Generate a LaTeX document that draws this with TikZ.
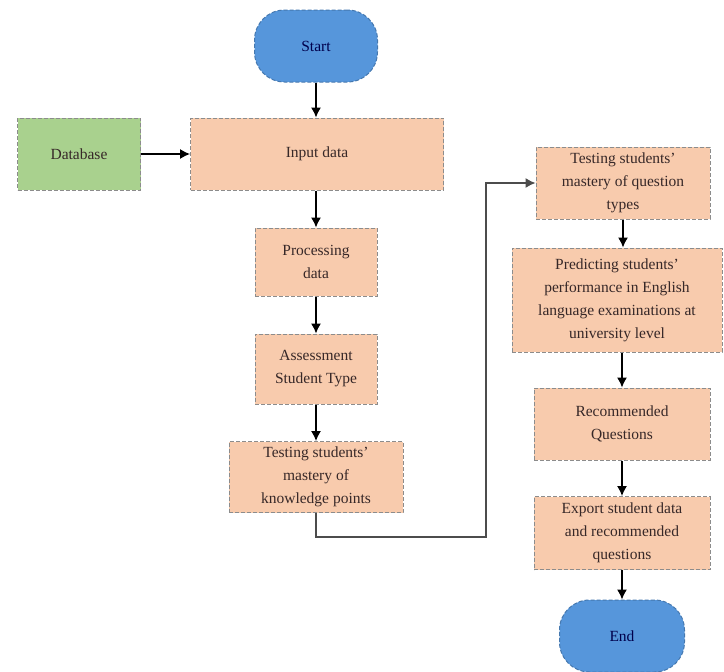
\documentclass[tikz,border=0pt]{standalone}
\usepackage{fontspec}
\setmainfont{Liberation Serif}
\usetikzlibrary{arrows.meta}
\definecolor{peach}{RGB}{248,203,173}
\definecolor{leaf}{RGB}{169,209,142}
\definecolor{sky}{RGB}{86,150,219}
\definecolor{rim}{RGB}{140,140,140}
\definecolor{ink}{RGB}{55,40,40}
\begin{document}
\begin{tikzpicture}[x=1pt,y=-1pt,
  every node/.style={font=\fontsize{15.5}{23}\selectfont, text=ink, align=center, inner sep=2pt},
  stepbox/.style={draw=rim, fill=peach, line width=1pt, dash pattern=on 4pt off 2pt},
  sourcebox/.style={draw=rim, fill=leaf, line width=1pt, dash pattern=on 4pt off 2pt},
  terminal/.style={draw=sky!80!black, fill=sky, line width=1pt, dash pattern=on 4pt off 2pt,
    rounded corners=30pt, minimum width=123, minimum height=72, text=blue!30!black},
  flow/.style={draw=black, line width=1.3pt, -{Latex[length=10pt,width=10pt]}},
  loop/.style={draw=black!70, line width=1.3pt, -{Latex[length=10pt,width=10pt]}}]
\useasboundingbox (0,0) rectangle (724,672);

% left column
\node[terminal] (start) at (316,46) {Start};
\node[sourcebox, minimum width=123, minimum height=72] (db) at (79,154) {Database};
\node[stepbox, minimum width=253, minimum height=72] (input) at (317,154) {Input data};
\node[stepbox, minimum width=122, minimum height=68] (proc) at (316,262) {Processing\\data};
\node[stepbox, minimum width=122, minimum height=70] (assess) at (316,369) {Assessment\\Student Type};
\node[stepbox, minimum width=174, minimum height=71] (know) at (316,477) {Testing students'\\mastery of\\knowledge points};

% right column
\node[stepbox, minimum width=174, minimum height=72] (qtype) at (623,183) {Testing students'\\mastery of question\\types};
\node[stepbox, minimum width=210, minimum height=104] (pred) at (617,300) {Predicting students'\\performance in English\\language examinations at\\university level};
\node[stepbox, minimum width=176, minimum height=72] (rec) at (622,424) {Recommended\\Questions};
\node[stepbox, minimum width=176, minimum height=73] (exp) at (622,533) {Export student data\\and recommended\\questions};
\node[terminal, minimum width=125] (end) at (622,636) {End};

% connectors
\draw[flow] (start.south) -- (start.south |- input.north);
\draw[flow] (db.east) -- (input.west);
\draw[flow] (proc.north |- input.south) -- (proc.north);
\draw[flow] (proc.south) -- (assess.north);
\draw[flow] (assess.south) -- (know.north);
\coordinate (turn) at (486,537);
\draw[loop] (know.south) |- (turn) |- (qtype.west);
\draw[flow] (qtype.south) -- (qtype.south |- pred.north);
\draw[flow] (rec.north |- pred.south) -- (rec.north);
\draw[flow] (rec.south) -- (exp.north);
\draw[flow] (exp.south) -- (end.north);
\end{tikzpicture}
\end{document}
